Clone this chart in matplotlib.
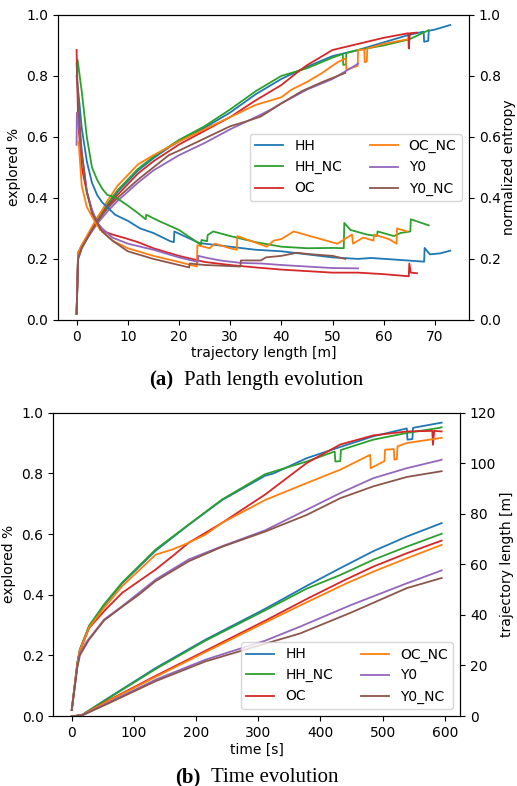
import numpy as np
import matplotlib
matplotlib.use('Agg')
import matplotlib.pyplot as plt

labels = ['HH', 'HH_NC', 'OC', 'OC_NC', 'Y0', 'Y0_NC']
colors = ['tab:blue', 'tab:green', 'tab:red', 'tab:orange', 'tab:purple', 'tab:brown']

# ---- (a) explored % vs trajectory length [m]
a_exp_x_HH = [0, 0.3, 1, 2, 3, 4, 5, 6, 8, 10, 12, 15, 18, 20, 25, 30, 35, 40, 45, 50, 55, 60, 65, 67.8, 67.9, 68.7, 68.8, 70, 73]
a_exp_y_HH = [0.02, 0.22, 0.24, 0.27, 0.30, 0.325, 0.35, 0.375, 0.42, 0.455, 0.49, 0.53, 0.565, 0.585, 0.63, 0.68, 0.74, 0.79, 0.83, 0.865, 0.885, 0.91, 0.935, 0.945, 0.912, 0.915, 0.948, 0.952, 0.967]
a_exp_x_HHNC = [0, 0.3, 1, 2, 3, 4, 5, 6, 8, 10, 12, 15, 20, 25, 30, 35, 40, 43, 45, 50, 52.0, 52.1, 52.6, 52.7, 55, 60, 65, 68.8]
a_exp_y_HHNC = [0.02, 0.22, 0.245, 0.27, 0.30, 0.33, 0.355, 0.38, 0.425, 0.46, 0.495, 0.535, 0.59, 0.635, 0.69, 0.75, 0.80, 0.815, 0.825, 0.86, 0.872, 0.836, 0.838, 0.875, 0.885, 0.90, 0.92, 0.95]
a_exp_x_OC = [0, 0.3, 1, 2, 3, 4, 5, 6, 8, 10, 12, 15, 20, 25, 30, 35, 40, 43, 45, 50, 55, 60, 64.8, 64.9, 65.1, 66.5]
a_exp_y_OC = [0.02, 0.22, 0.24, 0.27, 0.30, 0.32, 0.345, 0.37, 0.41, 0.445, 0.48, 0.52, 0.575, 0.62, 0.665, 0.72, 0.77, 0.81, 0.835, 0.885, 0.905, 0.925, 0.94, 0.89, 0.94, 0.942]
a_exp_x_OCNC = [0, 0.3, 1, 2, 3, 4, 5, 6, 8, 10, 12, 15, 20, 25, 30, 35, 38, 40, 42, 45, 48, 51, 52.6, 52.7, 54.9, 55.0, 56.2, 56.3, 56.7, 56.8, 60, 64.6]
a_exp_y_OCNC = [0.02, 0.22, 0.245, 0.275, 0.305, 0.335, 0.36, 0.39, 0.44, 0.475, 0.51, 0.54, 0.585, 0.625, 0.665, 0.705, 0.72, 0.73, 0.755, 0.78, 0.81, 0.845, 0.858, 0.82, 0.833, 0.885, 0.887, 0.845, 0.847, 0.89, 0.905, 0.92]
a_exp_x_Y0 = [0, 0.3, 1, 2, 3, 4, 5, 6, 8, 10, 12, 15, 18, 20, 25, 30, 35, 38, 40, 45, 50, 53, 55]
a_exp_y_Y0 = [0.02, 0.2, 0.235, 0.265, 0.29, 0.315, 0.335, 0.355, 0.39, 0.42, 0.45, 0.49, 0.52, 0.54, 0.58, 0.625, 0.665, 0.69, 0.71, 0.755, 0.79, 0.82, 0.84]
a_exp_x_Y0NC = [0, 0.3, 1, 2, 3, 4, 5, 6, 8, 10, 12, 15, 18, 20, 25, 30, 33, 36, 40, 44, 48, 52.5]
a_exp_y_Y0NC = [0.02, 0.2, 0.235, 0.265, 0.295, 0.32, 0.345, 0.365, 0.40, 0.43, 0.46, 0.50, 0.54, 0.555, 0.595, 0.635, 0.65, 0.667, 0.71, 0.75, 0.78, 0.81]

# ---- (a) normalized entropy vs trajectory length [m]
a_ent_x_HH = [0, 0.5, 1, 2, 3, 4, 5, 6, 7.5, 10, 12.4, 15, 18.3, 19.0, 19.1, 21, 24, 27, 30, 35, 40, 45, 50, 55, 57.5, 62, 67.9, 68.0, 69, 71, 73]
a_ent_y_HH = [0.80, 0.72, 0.63, 0.52, 0.45, 0.41, 0.385, 0.37, 0.345, 0.325, 0.30, 0.285, 0.258, 0.255, 0.29, 0.275, 0.252, 0.246, 0.24, 0.23, 0.225, 0.215, 0.205, 0.20, 0.203, 0.198, 0.191, 0.236, 0.215, 0.218, 0.227]
a_ent_x_HHNC = [0.2, 1, 2, 3, 4, 5, 6, 7.8, 10, 12, 13.5, 13.6, 16, 20, 24.3, 24.4, 25.5, 25.6, 26.7, 30, 35, 40, 45, 50.2, 52.2, 52.3, 53.5, 56.7, 58.7, 58.8, 62, 63.3, 65.2, 65.3, 68.8]
a_ent_y_HHNC = [0.852, 0.75, 0.6, 0.5, 0.46, 0.43, 0.41, 0.40, 0.375, 0.35, 0.33, 0.345, 0.325, 0.295, 0.246, 0.262, 0.258, 0.278, 0.29, 0.275, 0.255, 0.24, 0.235, 0.236, 0.235, 0.318, 0.295, 0.28, 0.275, 0.29, 0.275, 0.285, 0.29, 0.33, 0.31]
a_ent_x_OC = [0, 0.3, 1, 2, 3, 4, 4.6, 7, 9.5, 12, 15, 20, 25, 30, 35, 40, 45, 50, 55, 60, 64.9, 65.0, 65.3, 66.5]
a_ent_y_OC = [0.885, 0.65, 0.50, 0.42, 0.36, 0.32, 0.295, 0.28, 0.268, 0.255, 0.235, 0.21, 0.19, 0.18, 0.172, 0.165, 0.16, 0.155, 0.155, 0.15, 0.143, 0.185, 0.155, 0.153]
a_ent_x_OCNC = [0.4, 1, 2, 3, 4, 5, 7, 10, 15, 20, 23.5, 23.6, 26, 27, 30, 31.3, 31.4, 37.2, 38.5, 40, 42.4, 50.9, 51.0, 53.8, 54.0, 56, 58, 58.1, 61, 62.5, 62.6, 64.6]
a_ent_y_OCNC = [0.585, 0.44, 0.37, 0.34, 0.31, 0.29, 0.26, 0.235, 0.21, 0.19, 0.175, 0.245, 0.235, 0.25, 0.235, 0.23, 0.275, 0.24, 0.26, 0.265, 0.29, 0.25, 0.25, 0.28, 0.25, 0.27, 0.26, 0.28, 0.265, 0.25, 0.30, 0.29]
a_ent_x_Y0 = [0, 0.05, 0.3, 1, 2, 3, 4, 5, 7, 10, 15, 20, 23.7, 23.8, 25, 28, 32, 36, 40, 45, 50, 55]
a_ent_y_Y0 = [0.574, 0.68, 0.66, 0.55, 0.42, 0.36, 0.32, 0.30, 0.27, 0.25, 0.23, 0.205, 0.19, 0.21, 0.205, 0.195, 0.187, 0.185, 0.18, 0.175, 0.17, 0.169]
a_ent_x_Y0NC = [0, 0.3, 1, 2, 3, 4, 5, 7, 10, 15, 20, 22, 22.1, 25, 28, 32, 32.1, 36, 37, 40, 43, 46, 50, 52.5]
a_ent_y_Y0NC = [0.84, 0.72, 0.55, 0.42, 0.35, 0.32, 0.29, 0.26, 0.225, 0.20, 0.18, 0.172, 0.185, 0.18, 0.178, 0.175, 0.195, 0.195, 0.205, 0.21, 0.22, 0.215, 0.21, 0.20]

# ---- (b) explored % vs time [s]
b_exp_t_HH = [0, 9, 13, 28, 52, 81, 135, 188, 242, 311, 325, 378, 432, 485, 539, 540, 548, 549, 592, 595]
b_exp_y_HH = [0.02, 0.175, 0.219, 0.296, 0.365, 0.437, 0.545, 0.63, 0.712, 0.792, 0.80, 0.85, 0.887, 0.922, 0.948, 0.911, 0.913, 0.95, 0.966, 0.967]
b_exp_t_HHNC = [0, 9, 13, 28, 52, 81, 135, 188, 242, 311, 325, 378, 423, 424, 432, 433, 485, 539, 592, 595]
b_exp_y_HHNC = [0.02, 0.175, 0.219, 0.298, 0.368, 0.44, 0.549, 0.631, 0.714, 0.797, 0.806, 0.839, 0.872, 0.839, 0.84, 0.877, 0.911, 0.933, 0.95, 0.952]
b_exp_t_OC = [0, 9, 13, 28, 54, 81, 135, 162, 188, 242, 311, 378, 432, 485, 539, 580, 581, 583, 595]
b_exp_y_OC = [0.02, 0.17, 0.215, 0.29, 0.35, 0.406, 0.483, 0.527, 0.571, 0.637, 0.73, 0.834, 0.895, 0.925, 0.938, 0.94, 0.894, 0.94, 0.938]
b_exp_t_OCNC = [0, 9, 13, 28, 52, 81, 135, 162, 188, 215, 242, 311, 378, 432, 480, 481, 503, 504, 518, 519, 523, 524, 539, 592, 595]
b_exp_y_OCNC = [0.02, 0.172, 0.217, 0.292, 0.356, 0.428, 0.532, 0.549, 0.571, 0.598, 0.637, 0.712, 0.768, 0.812, 0.861, 0.817, 0.84, 0.878, 0.88, 0.845, 0.847, 0.889, 0.90, 0.916, 0.917]
b_exp_t_Y0 = [0, 9, 13, 22.5, 52, 81, 108, 135, 188, 242, 311, 378, 432, 485, 539, 592, 595]
b_exp_y_Y0 = [0.02, 0.165, 0.205, 0.241, 0.318, 0.362, 0.406, 0.45, 0.516, 0.56, 0.612, 0.68, 0.735, 0.784, 0.817, 0.843, 0.845]
b_exp_t_Y0NC = [0, 9, 13, 27.8, 52, 81, 108, 135, 188, 242, 311, 378, 432, 485, 539, 592, 595]
b_exp_y_Y0NC = [0.02, 0.16, 0.2, 0.252, 0.315, 0.36, 0.40, 0.445, 0.51, 0.558, 0.608, 0.663, 0.718, 0.757, 0.788, 0.806, 0.807]

# ---- (b) trajectory length [m] vs time [s]
b_len_t_HH = [0, 4, 17, 54.6, 135, 215, 311, 378, 432, 485, 539, 595]
b_len_m_HH = [0, 0, 0.5, 6.5, 19.0, 30.2, 42.4, 51.5, 58.5, 65.2, 71.0, 76.3]
b_len_t_HHNC = [0, 4, 17, 54.6, 135, 215, 311, 378, 432, 485, 539, 595]
b_len_m_HHNC = [0, 0, 0.5, 6.3, 18.6, 29.8, 41.8, 50.4, 55.8, 61.8, 67.0, 72.1]
b_len_t_OC = [0, 5, 17, 54.6, 135, 215, 311, 378, 440, 485, 539, 595]
b_len_m_OC = [0, 0, 0.4, 5.6, 15.9, 25.8, 37.7, 46.3, 53.9, 59.1, 64.4, 69.4]
b_len_t_OCNC = [0, 5, 17, 54.6, 135, 215, 311, 378, 442, 485, 539, 595]
b_len_m_OCNC = [0, 0, 0.4, 5.4, 15.5, 25.3, 37.0, 45.0, 52.5, 57.1, 62.4, 67.7]
b_len_t_Y0 = [0, 6, 17, 54.6, 135, 215, 311, 367.6, 450, 539, 595]
b_len_m_Y0 = [0, 0, 0.3, 4.8, 14.4, 22.3, 29.8, 35.4, 44.0, 52.5, 57.6]
b_len_t_Y0NC = [0, 6, 17, 54.6, 135, 215, 311, 367.6, 450, 539, 595]
b_len_m_Y0NC = [0, 0, 0.3, 4.5, 13.8, 21.6, 28.6, 32.7, 41.0, 50.6, 54.6]

a_exp = [(a_exp_x_HH, a_exp_y_HH), (a_exp_x_HHNC, a_exp_y_HHNC), (a_exp_x_OC, a_exp_y_OC),
         (a_exp_x_OCNC, a_exp_y_OCNC), (a_exp_x_Y0, a_exp_y_Y0), (a_exp_x_Y0NC, a_exp_y_Y0NC)]
a_ent = [(a_ent_x_HH, a_ent_y_HH), (a_ent_x_HHNC, a_ent_y_HHNC), (a_ent_x_OC, a_ent_y_OC),
         (a_ent_x_OCNC, a_ent_y_OCNC), (a_ent_x_Y0, a_ent_y_Y0), (a_ent_x_Y0NC, a_ent_y_Y0NC)]
b_exp = [(b_exp_t_HH, b_exp_y_HH), (b_exp_t_HHNC, b_exp_y_HHNC), (b_exp_t_OC, b_exp_y_OC),
         (b_exp_t_OCNC, b_exp_y_OCNC), (b_exp_t_Y0, b_exp_y_Y0), (b_exp_t_Y0NC, b_exp_y_Y0NC)]
b_len = [(b_len_t_HH, b_len_m_HH), (b_len_t_HHNC, b_len_m_HHNC), (b_len_t_OC, b_len_m_OC),
         (b_len_t_OCNC, b_len_m_OCNC), (b_len_t_Y0, b_len_m_Y0), (b_len_t_Y0NC, b_len_m_Y0NC)]

plt.rcParams['font.size'] = 10
fig = plt.figure(figsize=(5.17, 7.86), dpi=100)
lw = 1.3

# panel (a)
ax1 = fig.add_axes([0.112, 0.593, 0.795, 0.388])
ax2 = ax1.twinx()
handles = []
for (x, y), lab, c in zip(a_exp, labels, colors):
    h, = ax1.plot(x, y, color=c, lw=lw, label=lab)
    handles.append(h)
for (x, y), c in zip(a_ent, colors):
    ax2.plot(x, y, color=c, lw=lw)
ax1.set_ylim(0, 1)
ax2.set_ylim(0, 1)
ax1.set_xlabel('trajectory length [m]', labelpad=2)
ax1.set_ylabel('explored %')
ax2.set_ylabel('normalized entropy', labelpad=1)
ax2.legend(handles=handles, loc='center right', ncol=2)

# panel (b)
ax3 = fig.add_axes([0.103, 0.089, 0.787, 0.386])
ax4 = ax3.twinx()
handles = []
for (t, y), lab, c in zip(b_exp, labels, colors):
    h, = ax3.plot(t, y, color=c, lw=lw, label=lab)
    handles.append(h)
for (t, m), c in zip(b_len, colors):
    ax4.plot(t, m, color=c, lw=lw)
ax3.set_ylim(0, 1)
ax4.set_ylim(0, 120)
ax3.set_xlabel('time [s]', labelpad=2)
ax3.set_ylabel('explored %')
ax4.set_ylabel('trajectory length [m]', labelpad=3)
ax4.legend(handles=handles, loc='lower right', ncol=2)

# captions
serif = ['Liberation Serif', 'DejaVu Serif']
fig.text(173 / 517, 1 - 380 / 786, '(a)', ha='right', va='center', fontsize=15,
         fontweight='bold', family=serif)
fig.text(184 / 517, 1 - 380 / 786, 'Path length evolution', ha='left', va='center',
         fontsize=15, family=serif)
fig.text(200 / 517, 1 - 777 / 786, '(b)', ha='right', va='center', fontsize=15,
         fontweight='bold', family=serif)
fig.text(211 / 517, 1 - 777 / 786, 'Time evolution', ha='left', va='center',
         fontsize=15, family=serif)

fig.savefig('out.png', dpi=100)
